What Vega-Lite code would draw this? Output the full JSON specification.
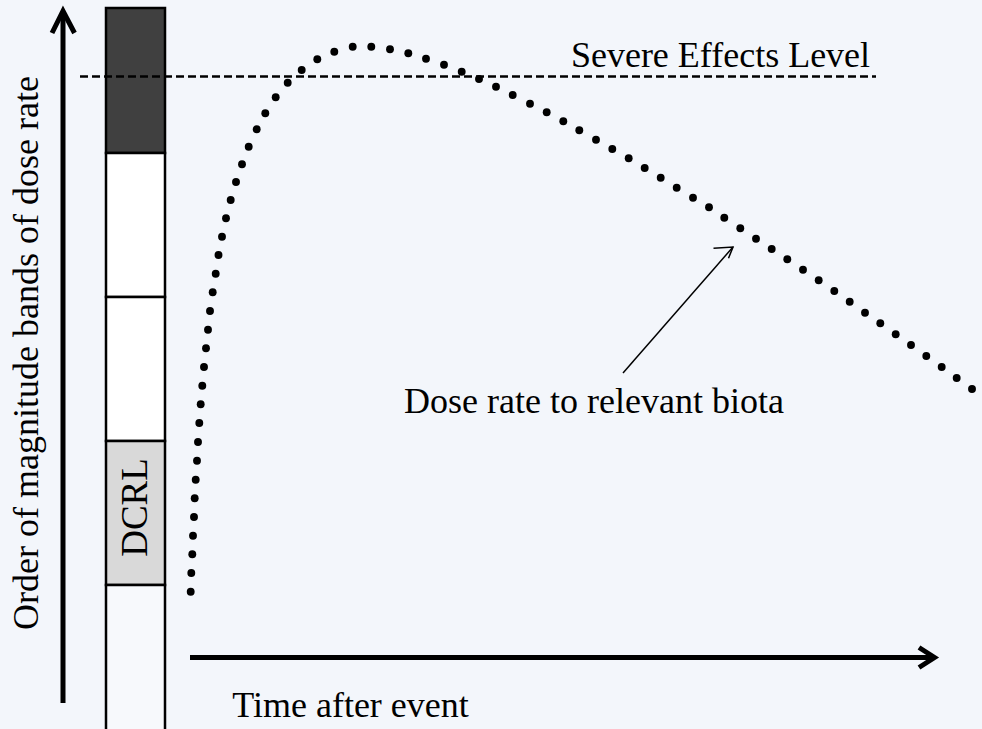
{
  "$schema": "https://vega.github.io/schema/vega-lite/v6.json",
  "width": 982,
  "height": 729,
  "autosize": {"type": "none"},
  "padding": 0,
  "background": "#f3f6fb",
  "config": {"view": {"stroke": null}, "font": "Liberation Serif"},
  "datasets": {
    "bands": [
      {"band": "severe", "t0": 106, "t1": 165, "lo": 8, "hi": 153},
      {"band": "b2", "t0": 106, "t1": 165, "lo": 153, "hi": 297},
      {"band": "b3", "t0": 106, "t1": 165, "lo": 297, "hi": 441},
      {"band": "DCRL", "t0": 106, "t1": 165, "lo": 441, "hi": 585},
      {"band": "low", "t0": 106, "t1": 165, "lo": 585, "hi": 740}
    ],
    "dose": [
      {"time": 190.7, "level": 591.7}, {"time": 191.3, "level": 573}, {"time": 192.3, "level": 554.3},
      {"time": 193, "level": 535.7}, {"time": 194, "level": 517}, {"time": 194.7, "level": 498.3},
      {"time": 195.7, "level": 479.7}, {"time": 197, "level": 460.7}, {"time": 198, "level": 442},
      {"time": 199.3, "level": 423}, {"time": 200.7, "level": 404.3}, {"time": 202.3, "level": 385.7},
      {"time": 204, "level": 367}, {"time": 206, "level": 348.3}, {"time": 208, "level": 329.7},
      {"time": 210, "level": 311}, {"time": 212.7, "level": 292.3}, {"time": 215.7, "level": 273.7},
      {"time": 218.5, "level": 255}, {"time": 222, "level": 236.7}, {"time": 226, "level": 218.3},
      {"time": 230.7, "level": 200}, {"time": 236, "level": 182}, {"time": 242, "level": 164.3},
      {"time": 248.7, "level": 146.7}, {"time": 256.7, "level": 129.3}, {"time": 265.3, "level": 113.3},
      {"time": 275.7, "level": 97.3}, {"time": 287.7, "level": 82.7}, {"time": 301.7, "level": 70},
      {"time": 317.3, "level": 59.3}, {"time": 334.3, "level": 51.7}, {"time": 352.7, "level": 46.7},
      {"time": 371.3, "level": 46.7}, {"time": 390, "level": 49.3}, {"time": 408.3, "level": 53.3},
      {"time": 426, "level": 58.7}, {"time": 444, "level": 64.7}, {"time": 461.7, "level": 71.7},
      {"time": 479, "level": 79}, {"time": 496, "level": 86.7}, {"time": 512.7, "level": 95},
      {"time": 530, "level": 103.7}, {"time": 546.7, "level": 112.3}, {"time": 563.3, "level": 121.3},
      {"time": 579.3, "level": 130.3}, {"time": 596, "level": 139.7}, {"time": 612.3, "level": 149},
      {"time": 628.7, "level": 158.3}, {"time": 644.7, "level": 168}, {"time": 660.7, "level": 177.7},
      {"time": 676.7, "level": 187.7}, {"time": 693, "level": 197.7}, {"time": 709, "level": 207.3},
      {"time": 724.3, "level": 217.7}, {"time": 740.3, "level": 228.3}, {"time": 756, "level": 238.7},
      {"time": 771.7, "level": 249}, {"time": 787.3, "level": 259.3}, {"time": 803, "level": 269.7},
      {"time": 818.7, "level": 280.3}, {"time": 834.3, "level": 291}, {"time": 849.7, "level": 301.7},
      {"time": 865, "level": 312.7}, {"time": 880.3, "level": 323.3}, {"time": 895.7, "level": 334.3},
      {"time": 911, "level": 345}, {"time": 926.3, "level": 356}, {"time": 941.7, "level": 367},
      {"time": 956.7, "level": 378}, {"time": 972, "level": 389}
    ],
    "axesArrows": [
      {"g": "yshaft", "k": 0, "time": 63, "level": 14},
      {"g": "yshaft", "k": 1, "time": 63, "level": 703},
      {"g": "yhead", "k": 0, "time": 52, "level": 33},
      {"g": "yhead", "k": 1, "time": 63, "level": 11},
      {"g": "yhead", "k": 2, "time": 74.5, "level": 33},
      {"g": "xshaft", "k": 0, "time": 190, "level": 657.5},
      {"g": "xshaft", "k": 1, "time": 932, "level": 657.5},
      {"g": "xhead", "k": 0, "time": 919, "level": 647.5},
      {"g": "xhead", "k": 1, "time": 934.5, "level": 657.5},
      {"g": "xhead", "k": 2, "time": 919, "level": 667.5}
    ],
    "pointer": [
      {"g": "shaft", "k": 0, "time": 623, "level": 373},
      {"g": "shaft", "k": 1, "time": 733, "level": 247},
      {"g": "head", "k": 0, "time": 713.5, "level": 248.3},
      {"g": "head", "k": 1, "time": 733, "level": 247},
      {"g": "head", "k": 2, "time": 728.5, "level": 258.3}
    ],
    "severe": [
      {"time": 80, "level": 76.5, "time2": 876}
    ],
    "labels": [
      {"label": "Severe  Effects Level", "time": 720.5, "level": 66.5, "rot": 0},
      {"label": "Dose rate to relevant biota", "time": 594, "level": 413, "rot": 0},
      {"label": "Time after event", "time": 350.5, "level": 716.5, "rot": 0},
      {"label": "Order of magnitude  bands of dose rate", "time": 38, "level": 353, "rot": 270},
      {"label": "DCRL", "time": 146.5, "level": 507.5, "rot": 271}
    ]
  },
  "layer": [
    {
      "data": {"name": "bands"},
      "mark": {"type": "rect", "stroke": "#000000", "strokeWidth": 2.5},
      "encoding": {
        "x": {"field": "t0", "type": "quantitative", "scale": {"domain": [0, 982], "nice": false, "zero": false}, "axis": null},
        "x2": {"field": "t1"},
        "y": {"field": "lo", "type": "quantitative", "scale": {"domain": [0, 729], "nice": false, "zero": false, "reverse": true}, "axis": null},
        "y2": {"field": "hi"},
        "fill": {
          "field": "band", "type": "nominal", "legend": null,
          "scale": {"domain": ["severe", "b2", "b3", "DCRL", "low"], "range": ["#404040", "#ffffff", "#ffffff", "#d9d9d9", "#f7f9fc"]}
        }
      }
    },
    {
      "data": {"name": "severe"},
      "mark": {"type": "rule", "color": "#000000", "strokeWidth": 2.5, "strokeDash": [8, 4]},
      "encoding": {
        "x": {"field": "time", "type": "quantitative"},
        "x2": {"field": "time2"},
        "y": {"field": "level", "type": "quantitative"}
      }
    },
    {
      "data": {"name": "axesArrows"},
      "mark": {"type": "line", "color": "#000000", "strokeWidth": 5, "strokeJoin": "miter", "strokeCap": "butt"},
      "encoding": {
        "x": {"field": "time", "type": "quantitative"},
        "y": {"field": "level", "type": "quantitative"},
        "detail": {"field": "g", "type": "nominal"},
        "order": {"field": "k", "type": "quantitative"}
      }
    },
    {
      "data": {"name": "pointer"},
      "mark": {"type": "line", "color": "#000000", "strokeWidth": 1.5},
      "encoding": {
        "x": {"field": "time", "type": "quantitative"},
        "y": {"field": "level", "type": "quantitative"},
        "detail": {"field": "g", "type": "nominal"},
        "order": {"field": "k", "type": "quantitative"}
      }
    },
    {
      "data": {"name": "dose"},
      "mark": {"type": "point", "filled": true, "color": "#000000", "opacity": 1, "size": 62},
      "encoding": {
        "x": {"field": "time", "type": "quantitative"},
        "y": {"field": "level", "type": "quantitative"}
      }
    },
    {
      "data": {"name": "labels"},
      "transform": [{"filter": "datum.rot == 0"}],
      "mark": {"type": "text", "font": "Liberation Serif", "fontSize": 36, "align": "center", "baseline": "alphabetic", "color": "#000000"},
      "encoding": {
        "x": {"field": "time", "type": "quantitative"},
        "y": {"field": "level", "type": "quantitative"},
        "text": {"field": "label"}
      }
    },
    {
      "data": {"name": "labels"},
      "transform": [{"filter": "datum.rot == 270"}],
      "mark": {"type": "text", "font": "Liberation Serif", "fontSize": 36, "angle": 270, "align": "center", "baseline": "alphabetic", "color": "#000000"},
      "encoding": {
        "x": {"field": "time", "type": "quantitative"},
        "y": {"field": "level", "type": "quantitative"},
        "text": {"field": "label"}
      }
    },
    {
      "data": {"name": "labels"},
      "transform": [{"filter": "datum.rot == 271"}],
      "mark": {"type": "text", "font": "Liberation Serif", "fontSize": 37, "angle": 270, "align": "center", "baseline": "alphabetic", "color": "#000000"},
      "encoding": {
        "x": {"field": "time", "type": "quantitative"},
        "y": {"field": "level", "type": "quantitative"},
        "text": {"field": "label"}
      }
    }
  ]
}
